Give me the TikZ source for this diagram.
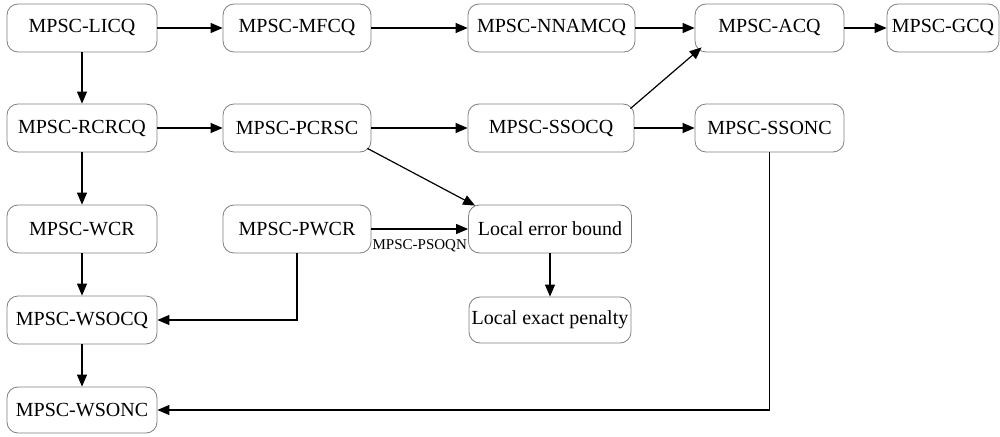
\documentclass[tikz,border=0pt]{standalone}
\usepackage{fontspec}
\setmainfont{Liberation Serif}
\usetikzlibrary{arrows.meta}
\begin{document}
\begin{tikzpicture}[x=1pt,y=-1pt,
  box/.style={draw=black!50, line width=0.8pt, rounded corners=11pt, inner sep=0pt,
    minimum width=#1, minimum height=48pt, font=\fontsize{20}{24}\selectfont},
  box/.default=149pt,
  arr/.style={draw=black, line width=1.2pt, -{Triangle[length=12pt,width=10pt]}},
  lab/.style={font=\fontsize{15}{18}\selectfont, inner sep=0pt}]
\useasboundingbox (0,0) rectangle (1000,436);
\fill[white] (0,0) rectangle (1000,436);
% row 1
\node[box=150pt] (licq) at (82,28) {MPSC-LICQ};
\node[box=148pt] (mfcq) at (297,28) {MPSC-MFCQ};
\node[box=167pt] (nnamcq) at (551.5,28) {MPSC-NNAMCQ};
\node[box=149pt] (acq) at (769.5,28) {MPSC-ACQ};
\node[box=112pt] (gcq) at (943,28) {MPSC-GCQ};
% row 2
\node[box=150pt] (rcrcq) at (82,128) {MPSC-RCRCQ};
\node[box=148pt] (pcrsc) at (297,128) {MPSC-PCRSC};
\node[box=166pt] (ssocq) at (551,128) {MPSC-SSOCQ};
\node[box=149pt] (ssonc) at (769.5,128) {MPSC-SSONC};
% row 3
\node[box=150pt] (wcr) at (82,229) {MPSC-WCR};
\node[box=148pt] (pwcr) at (297,229) {MPSC-PWCR};
\node[box=163pt] (leb) at (550,229) {Local error bound};
% row 4
\node[box=150pt] (wsocq) at (82,320) {MPSC-WSOCQ};
\node[box=162pt, minimum height=46pt] (lep) at (550,320) {Local exact penalty};
% row 5
\node[box=150pt, minimum height=46pt] (wsonc) at (82,410) {MPSC-WSONC};
% edges
\draw[arr] (licq) -- (mfcq);
\draw[arr] (mfcq) -- (nnamcq);
\draw[arr] (nnamcq) -- (acq);
\draw[arr] (acq) -- (gcq);
\draw[arr] (licq) -- (rcrcq);
\draw[arr] (rcrcq) -- (pcrsc);
\draw[arr] (pcrsc) -- (ssocq);
\draw[arr] (ssocq) -- (ssonc);
\draw[arr] ([shift={(-4,5)}]ssocq.north east) -- ([shift={(7,-5)}]acq.south west);
\draw[arr] ([shift={(-4,-4)}]pcrsc.south east) -- ([shift={(7,1)}]leb.north west);
\draw[arr] (pwcr) -- node[lab, below, yshift=-9.5pt] (psoqn) {MPSC-PSOQN} (leb);
\draw[arr] (rcrcq) -- (wcr);
\draw[arr] (wcr) -- (wsocq);
\draw[arr] (wsocq) -- (wsonc);
\draw[arr] (pwcr.south) |- (wsocq.east);
\draw[arr] (leb) -- (lep);
\draw[arr] (ssonc.south) |- (wsonc.east);
\end{tikzpicture}
\end{document}
